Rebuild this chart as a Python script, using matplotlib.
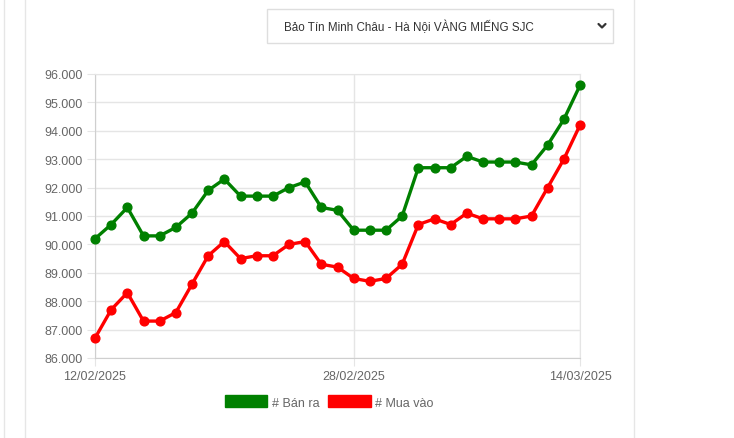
import matplotlib
matplotlib.use("Agg")
import matplotlib.pyplot as plt
from matplotlib.lines import Line2D
from matplotlib.patches import Rectangle, Patch
from matplotlib.ticker import FuncFormatter, MultipleLocator

plt.rcParams['font.family'] = ['Liberation Sans', 'DejaVu Sans']

# du lieu gia vang (nghin dong / luong)
dates = ['12/02/2025', '13/02/2025', '14/02/2025', '15/02/2025', '16/02/2025', '17/02/2025',
         '18/02/2025', '19/02/2025', '20/02/2025', '21/02/2025', '22/02/2025', '23/02/2025',
         '24/02/2025', '25/02/2025', '26/02/2025', '27/02/2025', '28/02/2025', '01/03/2025',
         '02/03/2025', '03/03/2025', '04/03/2025', '05/03/2025', '06/03/2025', '07/03/2025',
         '08/03/2025', '09/03/2025', '10/03/2025', '11/03/2025', '12/03/2025', '13/03/2025',
         '14/03/2025']
ban_ra = [90200, 90700, 91300, 90300, 90300, 90600, 91100, 91900, 92300, 91700, 91700,
          91700, 92000, 92200, 91300, 91200, 90500, 90500, 90500, 91000, 92700, 92700,
          92700, 93100, 92900, 92900, 92900, 92800, 93500, 94400, 95600]
mua_vao = [86700, 87700, 88300, 87300, 87300, 87600, 88600, 89600, 90100, 89500, 89600,
           89600, 90000, 90100, 89300, 89200, 88800, 88700, 88800, 89300, 90700, 90900,
           90700, 91100, 90900, 90900, 90900, 91000, 92000, 93000, 94200]
tick_idx = [0, 16, 30]
title = 'Bảo Tín Minh Châu - Hà Nội VÀNG MIẾNG SJC'

W, H = 734, 439
fig = plt.figure(figsize=(W / 100, H / 100), dpi=100)
fig.patch.set_facecolor('white')


def fx(px):
    return px / W


def fy(py):
    return 1 - py / H


# khung trang
for xp in (3.5, 24.5, 633.5):
    fig.add_artist(Line2D([fx(xp), fx(xp)], [0, 1], color='#e6e6e6', lw=1))

# o chon (select box)
fig.add_artist(Rectangle((fx(267), fy(44)), fx(613) - fx(267), fy(10) - fy(44),
                         facecolor='white', edgecolor='#dedede', lw=1))
fig.text(fx(284), fy(27.5), title, fontsize=8.4, color='#333333', va='center', ha='left')
fig.add_artist(Line2D([fx(598.5), fx(602), fx(605.5)], [fy(25), fy(28.5), fy(25)],
                      color='#333333', lw=1.6, solid_capstyle='round'))

# bieu do
left, right, top, bottom = 95, 580, 75, 359
ax = fig.add_axes([fx(left), fy(bottom), fx(right) - fx(left), fy(top) - fy(bottom)])
x = list(range(len(dates)))

ax.plot(x, ban_ra, color='#008000', lw=2.4, marker='o', ms=6.3, clip_on=False, zorder=3)
ax.plot(x, mua_vao, color='#ff0000', lw=2.4, marker='o', ms=6.3, clip_on=False, zorder=3)

ax.set_xlim(0, len(dates) - 1)
ax.set_ylim(86000, 96000)
ax.yaxis.set_major_locator(MultipleLocator(1000))
ax.yaxis.set_major_formatter(FuncFormatter(lambda v, _: f'{int(v):,}'.replace(',', '.')))
ax.set_xticks(tick_idx)
ax.set_xticklabels([dates[i] for i in tick_idx])

ax.grid(True, color='#e5e5e5', lw=1)
ax.set_axisbelow(True)
for s in ax.spines.values():
    s.set_color('#e5e5e5')
ax.spines['left'].set_color('#cfcfcf')
ax.spines['bottom'].set_color('#cfcfcf')
ax.tick_params(axis='both', colors='#e5e5e5', labelcolor='#666666', labelsize=9, length=6)
ax.tick_params(axis='y', pad=3)
ax.tick_params(axis='x', pad=3)

handles = [Patch(facecolor='#008000', edgecolor='#008000'),
           Patch(facecolor='#ff0000', edgecolor='#ff0000')]
fig.legend(handles, ['# Bán ra', '# Mua vào'], loc='center',
           bbox_to_anchor=(fx(329), fy(403)), ncol=2, frameon=False,
           fontsize=9, labelcolor='#666666', handlelength=3.4, handleheight=1.1,
           handletextpad=0.35, columnspacing=0.7)

fig.savefig('out.png', dpi=100, facecolor='white')
